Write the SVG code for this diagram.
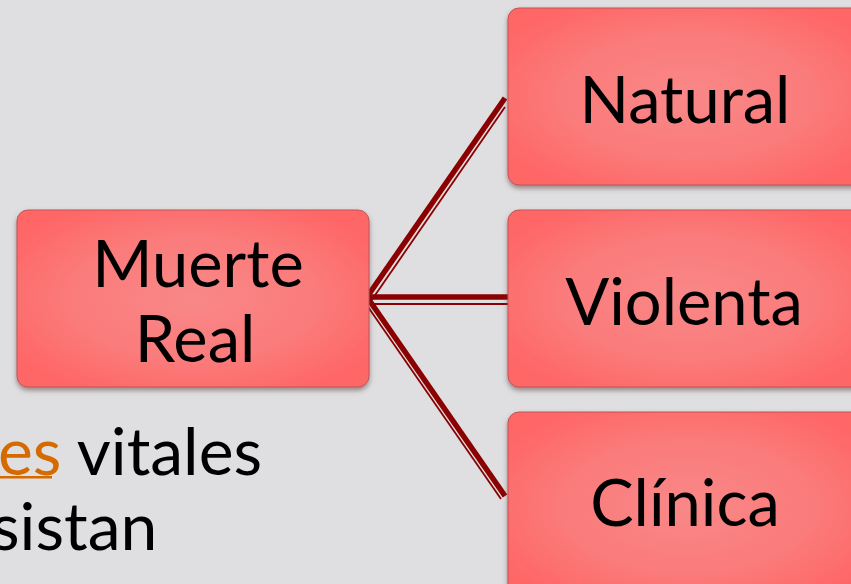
<svg xmlns="http://www.w3.org/2000/svg" width="851" height="584" viewBox="0 0 851 584">
<defs>
<radialGradient id="boxFill" cx="0.5" cy="0.5" r="0.6">
<stop offset="0" stop-color="#f98888"/>
<stop offset="0.6" stop-color="#fb7a7a"/>
<stop offset="1" stop-color="#ff6666"/>
</radialGradient>
<filter id="shadow" x="-10%" y="-10%" width="120%" height="130%">
<feDropShadow dx="0" dy="3" stdDeviation="2.5" flood-color="#5a3a3a" flood-opacity="0.55"/>
</filter>
<style>
.box{fill:url(#boxFill);stroke:#bf5555;stroke-width:1;filter:url(#shadow)}
.lbl{font-family:Lato,"Open Sans","Noto Sans",sans-serif;font-size:65px;fill:#000;text-anchor:middle}
.body{font-family:Lato,"Open Sans","Noto Sans",sans-serif;font-size:66px;fill:#000}
.thick{stroke:#8b0000;stroke-width:5.5;fill:none;stroke-linecap:butt}
.thin{stroke:#8b0000;stroke-width:1.8;fill:none}
</style>
</defs>
<rect width="851" height="584" fill="#dfdfe1"/>
<g id="bodytext">
<text class="body" x="-2" y="475"><tspan fill="#d46a00">es</tspan> vitales</text>
<rect x="0" y="476" width="52" height="2.5" fill="#d46a00"/>
<text class="body" x="-9" y="550">sistan</text>
</g>
<g id="connectors">
<line class="thick" x1="367" y1="297" x2="505" y2="98"/>
<line class="thin" x1="370" y1="302.5" x2="505" y2="107"/>
<line class="thick" x1="367" y1="297" x2="508" y2="297"/>
<line class="thin" x1="369" y1="304" x2="508" y2="304"/>
<line class="thick" x1="367" y1="297" x2="505" y2="496"/>
<line class="thin" x1="366" y1="304" x2="501" y2="499"/>
</g>
<g id="node-muerte-real">
<rect class="box" x="17" y="210" width="352" height="177" rx="11"/>
<text class="lbl" x="198" y="287">Muerte</text>
<text class="lbl" x="195" y="362">Real</text>
</g>
<g id="node-natural">
<rect class="box" x="508" y="8" width="360" height="177" rx="11"/>
<text class="lbl" x="685" y="123">Natural</text>
</g>
<g id="node-violenta">
<rect class="box" x="508" y="210" width="360" height="177" rx="11"/>
<text class="lbl" x="684" y="325">Violenta</text>
</g>
<g id="node-clinica">
<rect class="box" x="508" y="412" width="360" height="190" rx="11"/>
<text class="lbl" x="685" y="526">Clínica</text>
</g>
</svg>
